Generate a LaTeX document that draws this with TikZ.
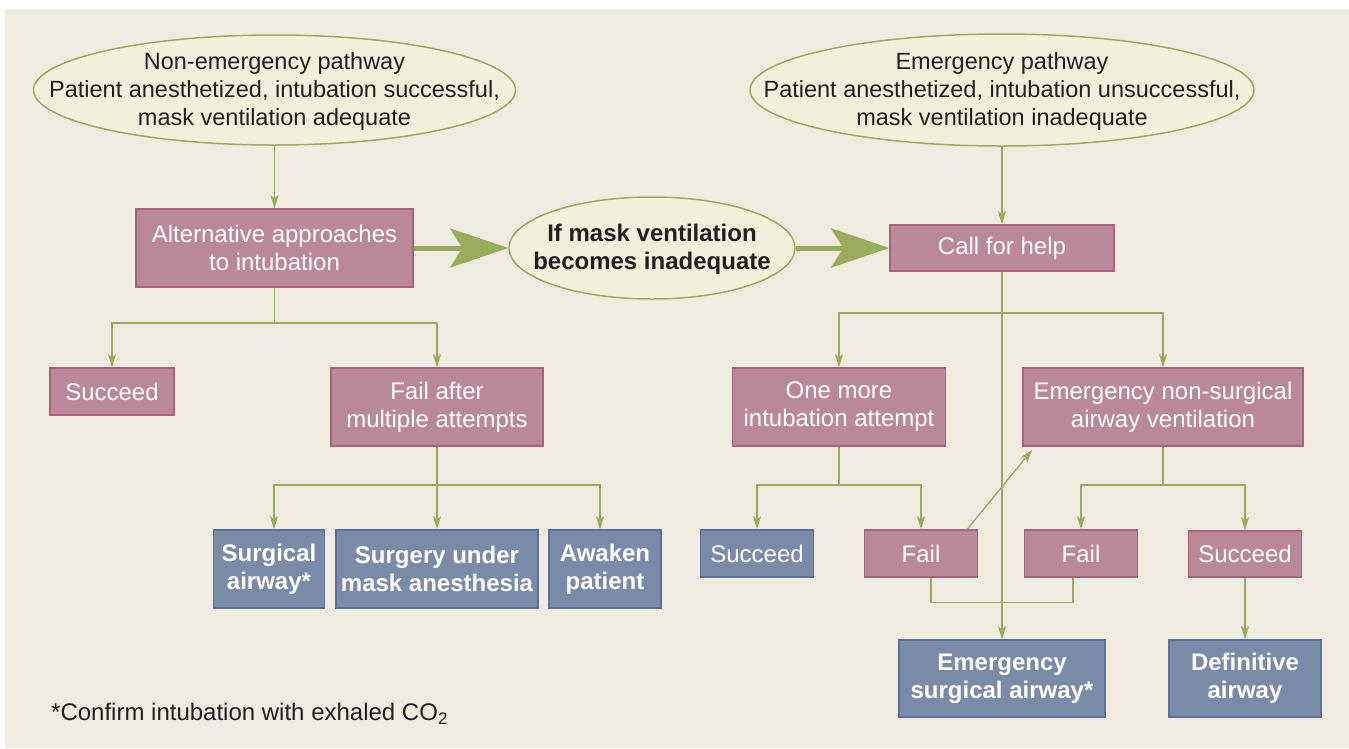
\documentclass[tikz,border=0pt]{standalone}
\usepackage{fontspec}
\setmainfont{Liberation Sans}
\usetikzlibrary{shapes.geometric,arrows.meta}
\definecolor{bgc}{HTML}{EFEBE0}
\definecolor{ellf}{HTML}{F2F0DA}
\definecolor{ellb}{HTML}{9BAA5C}
\definecolor{pinkf}{HTML}{BA8898}
\definecolor{pinkb}{HTML}{A8627D}
\definecolor{bluef}{HTML}{7A8BAA}
\definecolor{blueb}{HTML}{5C70A0}
\definecolor{arr}{HTML}{9AAB5C}
\definecolor{txt}{HTML}{231F20}
\begin{document}
\begin{tikzpicture}[x=1pt,y=-1pt,
  ell/.style={ellipse,draw=ellb,fill=ellf,line width=1.5pt,inner sep=0pt},
  etext/.style={align=center,text=txt,inner sep=0pt,yshift=-1.5pt,font=\fontsize{23.5}{28}\selectfont},
  pbox/.style={rectangle,draw=pinkb,fill=pinkf,line width=1.5pt,inner sep=0pt,text=white,align=center,font=\fontsize{24}{28}\selectfont},
  bbox/.style={rectangle,draw=blueb,fill=bluef,line width=1.5pt,inner sep=0pt,text=white,align=center,font=\bfseries\fontsize{24}{28}\selectfont},
  conn/.style={draw=arr,line width=1.3pt},
  arrowed/.style={-{Stealth[length=13pt,width=8pt,inset=3pt]}},
  bigarrow/.style={draw=arr,line width=5pt,-{Stealth[length=58pt,width=39pt,inset=12pt]}}
]
\useasboundingbox (0,0) rectangle (1349,748);
\fill[bgc] (5,9) rectangle (1349,748);

% ellipses
\node[ell,minimum width=482pt,minimum height=110pt] (e1) at (274.5,90) {};
\node[etext] (e1t) at (e1.center) {Non-emergency pathway\\Patient anesthetized, intubation successful,\\mask ventilation adequate};
\node[ell,minimum width=504pt,minimum height=112pt] (e2) at (1002,90) {};
\node[etext] (e2t) at (e2.center) {Emergency pathway\\Patient anesthetized, intubation unsuccessful,\\mask ventilation inadequate};
\node[ell,minimum width=286pt,minimum height=102pt] (mid) at (652,248) {};
\node[etext,font=\bfseries\fontsize{24}{28}\selectfont] (midt) at (mid.center) {If mask ventilation\\becomes inadequate};

% left side
\node[pbox,minimum width=277pt,minimum height=78pt] (alt) at (274.5,248) {Alternative approaches\\to intubation};
\node[pbox,minimum width=124pt,minimum height=47pt] (succ1) at (112,391.5) {Succeed};
\node[pbox,minimum width=212pt,minimum height=78pt] (failm) at (437,407) {Fail after\\multiple attempts};
\node[bbox,minimum width=111pt,minimum height=78pt] (surg) at (269,569) {Surgical\\airway*};
\node[bbox,minimum width=202pt,minimum height=78pt] (smask) at (437,569) {Surgery under\\mask anesthesia};
\node[bbox,minimum width=112pt,minimum height=78pt] (awk) at (605,569) {Awaken\\patient};

% right side
\node[pbox,minimum width=224pt,minimum height=46pt] (call) at (1002,248) {Call for help};
\node[pbox,minimum width=213pt,minimum height=78pt] (onemore) at (839,407) {One more\\intubation attempt};
\node[pbox,minimum width=280pt,minimum height=78pt] (ensa) at (1163,407) {Emergency non-surgical\\airway ventilation};
\node[bbox,font=\fontsize{24}{28}\selectfont,minimum width=113pt,minimum height=47pt] (succ2) at (757,553.5) {Succeed};
\node[pbox,minimum width=113pt,minimum height=47pt] (fail2) at (921,553.5) {Fail};
\node[pbox,minimum width=113pt,minimum height=47pt] (fail3) at (1081,553.5) {Fail};
\node[pbox,minimum width=113pt,minimum height=46pt] (succ3) at (1245,554) {Succeed};
\node[bbox,minimum width=206pt,minimum height=77pt] (esa) at (1002,678.5) {Emergency\\surgical airway*};
\node[bbox,minimum width=152pt,minimum height=77pt] (def) at (1245,678.5) {Definitive\\airway};

\node[anchor=west,text=txt,inner sep=0pt,font=\fontsize{24}{28}\selectfont] (note) at (51,713.5) {*Confirm intubation with exhaled CO\textsubscript{2}};

% thick arrows
\draw[bigarrow] (alt.east) -- (mid.west);
\draw[bigarrow] (mid.east) -- (call.west);

% left connectors
\coordinate (j1) at (274.5,323);
\coordinate (j2) at (437,485);
\draw[conn,arrowed] (e1.south) -- (alt.north);
\draw[conn] (alt.south) -- (j1);
\draw[conn,arrowed] (j1) -| (succ1.north);
\draw[conn,arrowed] (j1) -| (failm.north);
\draw[conn] (failm.south) -- (j2);
\draw[conn,arrowed] (j2) -| ([xshift=5pt]surg.north);
\draw[conn,arrowed] (j2) -- (smask.north);
\draw[conn,arrowed] (j2) -| ([xshift=-5pt]awk.north);

% right connectors
\coordinate (j3) at (1002,313);
\coordinate (j4) at (839,485);
\coordinate (j5) at (1163,485);
\draw[conn,arrowed] (e2.south) -- (call.north);
\draw[conn,arrowed] (call.south) -- (esa.north);
\draw[conn,arrowed] (j3) -| (onemore.north);
\draw[conn,arrowed] (j3) -| (ensa.north);
\draw[conn] (onemore.south) -- (j4);
\draw[conn,arrowed] (j4) -| (succ2.north);
\draw[conn,arrowed] (j4) -| (fail2.north);
\draw[conn,arrowed] ([xshift=-11pt]fail2.north east) -- ([xshift=10pt,yshift=-3pt]ensa.south west);
\draw[conn] (ensa.south) -- (j5);
\draw[conn,arrowed] (j5) -| (fail3.north);
\draw[conn,arrowed] (j5) -| (succ3.north);
\draw[conn] ([xshift=10pt]fail2.south) -- ++(0,25) -| ([xshift=-8pt]fail3.south);
\draw[conn,arrowed] (succ3.south) -- (def.north);
\end{tikzpicture}
\end{document}
